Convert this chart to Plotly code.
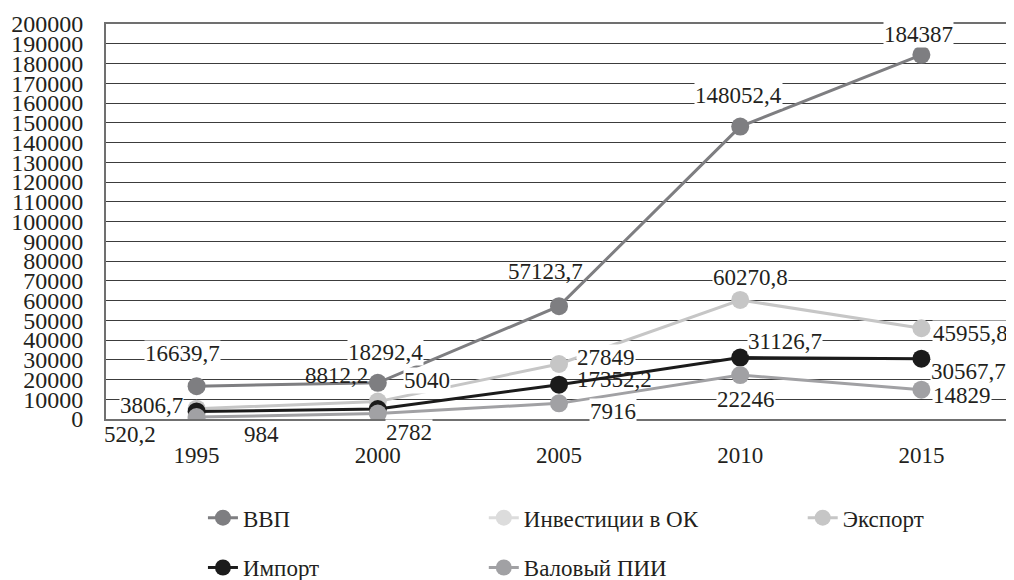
import plotly.graph_objects as go

years = ["1995", "2000", "2005", "2010", "2015"]
series_names = ["ВВП", "Инвестиции в ОК", "Экспорт", "Импорт", "Валовый ПИИ"]
vvp = [16639.7, 18292.4, 57123.7, 148052.4, 184387]
invest = [520.2, None, None, None, None]
export = [5250, 8812.2, 27849, 60270.8, 45955.8]
imports = [3806.7, 5040, 17352.2, 31126.7, 30567.7]
fdi = [984, 2782, 7916, 22246, 14829]
y_ticks = list(range(0, 200001, 10000))

series_values = [vvp, invest, export, imports, fdi]
colors = ["#7e7e81", "#dcdcdc", "#c6c6c6", "#1b1b1b", "#a1a1a4"]

# label offsets in pixels (dx, dy) from the point; None = no label shown
label_offsets = [
    [(-14, -33), (8, -30), (-14, -35), (-2, -31), (-3, -20)],
    [(-67, 17), None, None, None, None],
    [None, (-41, -26), (47, -7), (10, -22), (49, 5)],
    [(-45, -6), (49, -29), (55, -5), (45, -16), (47, 13)],
    [(65, 17), (31, 19), (54, 8), (6, 24), (41, 6)],
]
# labels that lines cross over in the reference: no white box behind them
clear_labels = {(2, 1), (0, 2), (3, 2)}

FONT = "Liberation Serif"


def fmt(v):
    if float(v).is_integer():
        return str(int(v))
    return ("%.1f" % v).replace(".", ",")


fig = go.Figure()
legend_ids = ["legend", "legend2", "legend3", "legend4", "legend5"]
for i, (name, vals) in enumerate(zip(series_names, series_values)):
    fig.add_trace(go.Scatter(
        x=years, y=vals, name=name, mode="lines+markers",
        line=dict(color=colors[i], width=3),
        marker=dict(color=colors[i], size=18),
        connectgaps=False,
        legend=legend_ids[i],
    ))

annotations = []
for i, vals in enumerate(series_values):
    for j, v in enumerate(vals):
        off = label_offsets[i][j]
        if v is None or off is None:
            continue
        annotations.append(dict(
            x=j, y=v, xref="x", yref="y", text=fmt(v), showarrow=False,
            xshift=off[0], yshift=-off[1], xanchor="center", yanchor="middle",
            font=dict(family=FONT, size=23, color="#231f20"),
            bgcolor="rgba(0,0,0,0)" if (i, j) in clear_labels else "white",
            borderpad=0,
        ))

# legend placement (paper coords)
leg_pos = {
    "legend": (0.107, -0.250),
    "legend2": (0.417, -0.250),
    "legend3": (0.769, -0.250),
    "legend4": (0.107, -0.376),
    "legend5": (0.417, -0.376),
}
leg_common = dict(font=dict(family=FONT, size=23, color="#231f20"),
                  bgcolor="rgba(0,0,0,0)", xanchor="left", yanchor="middle",
                  orientation="h")

layout_legends = {}
for k, (lx, ly) in leg_pos.items():
    layout_legends[k] = dict(x=lx, y=ly, **leg_common)

# the page body has an 8px margin, so the figure is drawn 8px in from the corner
fig.update_layout(
    width=1006, height=572,
    margin=dict(l=98, r=2, t=16, b=161, autoexpand=False),
    paper_bgcolor="white", plot_bgcolor="white",
    font=dict(family=FONT, size=23, color="#231f20"),
    showlegend=True,
    annotations=annotations,
    xaxis=dict(type="category", range=[-0.5, 4.5], showgrid=False,
               showline=True, linecolor="#707070", linewidth=2, mirror=True,
               ticks="", ticklabelstandoff=14, automargin=False,
               tickfont=dict(family=FONT, size=23, color="#231f20")),
    yaxis=dict(range=[0, 200000], tickvals=y_ticks,
               ticktext=[str(t) for t in y_ticks],
               showgrid=True, gridcolor="#3c3c3c", gridwidth=1,
               showline=True, linecolor="#707070", linewidth=2, mirror=True,
               ticks="", ticklabelstandoff=16, zeroline=False, automargin=False,
               tickfont=dict(family=FONT, size=24, color="#231f20")),
    **layout_legends,
)

fig.write_html("out.html")
